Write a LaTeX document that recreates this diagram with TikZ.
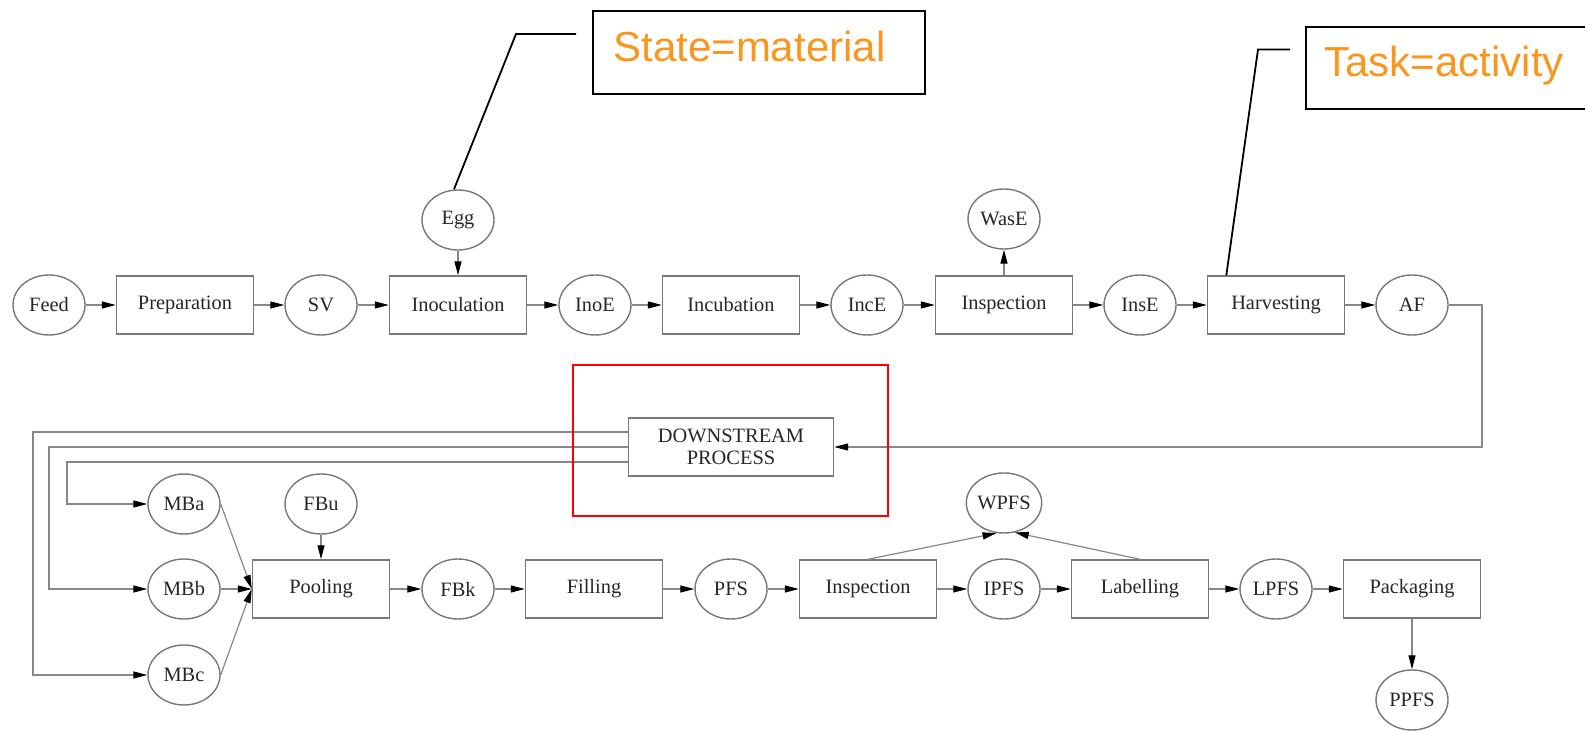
\documentclass[tikz,border=0pt]{standalone}
\usepackage{fontspec}
\setmainfont{Liberation Serif}
\newfontfamily\calloutfont{Liberation Sans}
\usetikzlibrary{arrows.meta,shapes.geometric}
\definecolor{nodegray}{RGB}{120,120,120}
\definecolor{edgegray}{RGB}{135,135,135}
\definecolor{noteorange}{RGB}{250,150,30}
\begin{document}
\begin{tikzpicture}[x=0.5pt,y=-0.5pt,
  state/.style={ellipse, draw=nodegray, line width=0.7pt, minimum width=36pt,
    minimum height=30pt, inner sep=0pt, font=\fontsize{10.2}{11}\selectfont, text=black!85},
  task/.style={rectangle, draw=nodegray, line width=0.7pt, minimum width=68.5pt,
    minimum height=29pt, inner sep=0pt, font=\fontsize{10.2}{11}\selectfont, text=black!85},
  flow/.style={draw=edgegray, line width=0.6pt, -{Triangle[length=7pt,width=3.5pt,black]}},
  notebox/.style={draw=black, line width=1pt, inner sep=0pt, anchor=north west},
  notetext/.style={font=\calloutfont\fontsize{21}{25}\selectfont, text=noteorange,
    inner sep=0pt, anchor=base west},
  leader/.style={draw=black, line width=0.9pt},
  highlight/.style={draw=red, line width=0.9pt, inner sep=0pt, anchor=north west}
]
\useasboundingbox (0,0) rectangle (1585,731);
\clip (0,0) rectangle (1585,731);

% upstream chain
\node[state] (Feed)  at (49,305)   {Feed};
\node[task]  (Prep)  at (185,305)  {Preparation};
\node[state] (SV)    at (321,305)  {SV};
\node[task]  (Inoc)  at (458,305)  {Inoculation};
\node[state] (Egg)   at (458,220)  {Egg};
\node[state] (InoE)  at (595,305)  {InoE};
\node[task]  (Incub) at (731,305)  {Incubation};
\node[state] (IncE)  at (867,305)  {IncE};
\node[task]  (Insp)  at (1004,305) {Inspection};
\node[state] (WasE)  at (1004,219) {WasE};
\node[state] (InsE)  at (1140,305) {InsE};
\node[task]  (Harv)  at (1276,305) {Harvesting};
\node[state] (AF)    at (1412,305) {AF};

% downstream block
\node[task, minimum width=102.5pt, align=center] (DS) at (731,447) {DOWNSTREAM\\PROCESS};

% fill and finish chain
\node[state] (MBa)   at (184,504)  {MBa};
\node[state] (MBb)   at (184,589)  {MBb};
\node[state] (MBc)   at (184,675)  {MBc};
\node[state] (FBu)   at (321,504)  {FBu};
\node[task]  (Pool)  at (321,589)  {Pooling};
\node[state] (FBk)   at (458,589)  {FBk};
\node[task]  (Fill)  at (594,589)  {Filling};
\node[state] (PFS)   at (731,589)  {PFS};
\node[task]  (InspB) at (868,589)  {Inspection};
\node[state] (WPFS)  at (1004,503) {WPFS};
\node[state] (IPFS)  at (1004,589) {IPFS};
\node[task]  (Label) at (1140,589) {Labelling};
\node[state] (LPFS)  at (1276,589) {LPFS};
\node[task]  (Pack)  at (1412,589) {Packaging};
\node[state] (PPFS)  at (1412,700) {PPFS};

% upstream connectors
\draw[flow] (Feed) -- (Prep);
\draw[flow] (Prep) -- (SV);
\draw[flow] (SV) -- (Inoc);
\draw[flow] (Egg) -- (Inoc);
\draw[flow] (Inoc) -- (InoE);
\draw[flow] (InoE) -- (Incub);
\draw[flow] (Incub) -- (IncE);
\draw[flow] (IncE) -- (Insp);
\draw[flow] (Insp) -- (WasE);
\draw[flow] (Insp) -- (InsE);
\draw[flow] (InsE) -- (Harv);
\draw[flow] (Harv) -- (AF);

% harvested fluid into downstream processing
\coordinate (afBend) at (1482,447);
\draw[flow] (AF.east) -| (afBend) -- (DS.east);

% monovalent bulks out of downstream processing
\coordinate (loopA) at (67,504);
\coordinate (loopB) at (49,589);
\coordinate (loopC) at (33,675);
\draw[flow] ([yshift=-7.5pt]DS.west) -| (loopA) -- (MBa);
\draw[flow] (DS.west) -| (loopB) -- (MBb);
\draw[flow] ([yshift=7.5pt]DS.west) -| (loopC) -- (MBc);

% fill and finish connectors
\draw[flow] (MBa.east) -- (Pool.west);
\draw[flow] (MBb) -- (Pool.west);
\draw[flow] (MBc.east) -- (Pool.west);
\draw[flow] (FBu) -- (Pool);
\draw[flow] (Pool) -- (FBk);
\draw[flow] (FBk) -- (Fill);
\draw[flow] (Fill) -- (PFS);
\draw[flow] (PFS) -- (InspB);
\draw[flow] (InspB) -- (IPFS);
\draw[flow] (InspB.north) -- (WPFS.-104);
\draw[flow] (IPFS) -- (Label);
\draw[flow] (Label.north) -- (WPFS.-70);
\draw[flow] (Label) -- (LPFS);
\draw[flow] (LPFS) -- (Pack);
\draw[flow] (Pack) -- (PPFS);

% highlight around the downstream block
\node[highlight, minimum width=157.5pt, minimum height=75.5pt] (focus) at (572,364) {};

% callouts
\node[notebox, minimum width=166pt, minimum height=41.5pt] (stateBox) at (592,10) {};
\node[notetext] (stateText) at (613,62) {State=material};
\coordinate (stateTail) at (576,34);
\coordinate (stateKnee) at (516,34);
\draw[leader] (stateTail) -- (stateKnee) -- ([xshift=-2pt]Egg.north);

\node[notebox, minimum width=160pt, minimum height=41pt] (taskBox) at (1305,26) {};
\node[notetext] (taskText) at (1324,77) {Task=activity};
\coordinate (taskTail) at (1290,49.5);
\coordinate (taskKnee) at (1258,49.5);
\draw[leader] (taskTail) -- (taskKnee) -- ([xshift=9.75pt]Harv.north west);
\end{tikzpicture}
\end{document}
